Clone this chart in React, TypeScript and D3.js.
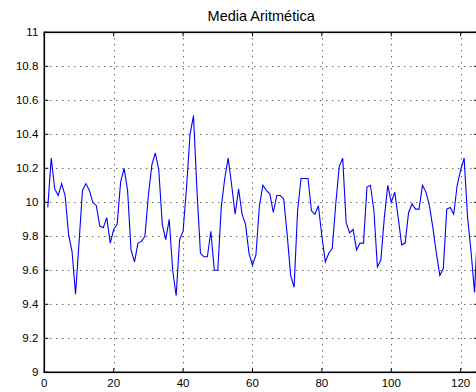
import React from 'react';
import * as d3 from 'd3';

// mean value for each sample (x = 1..125)
const mediaValues: number[] = [
  9.97, 10.26, 10.08, 10.04, 10.11, 10.04, 9.81, 9.71, 9.46, 9.76,
  10.07, 10.11, 10.07, 10.0, 9.98, 9.86, 9.85, 9.91, 9.76, 9.84,
  9.87, 10.12, 10.2, 10.07, 9.72, 9.65, 9.76, 9.77, 9.8, 10.04,
  10.22, 10.29, 10.19, 9.87, 9.78, 9.9, 9.6, 9.45, 9.78, 9.83,
  10.09, 10.4, 10.51, 10.07, 9.7, 9.68, 9.68, 9.83, 9.6, 9.6,
  9.97, 10.14, 10.26, 10.1, 9.93, 10.08, 9.93, 9.87, 9.7, 9.63,
  9.69, 9.98, 10.1, 10.07, 10.05, 9.94, 10.04, 10.04, 10.02, 9.81,
  9.57, 9.5, 9.95, 10.14, 10.14, 10.14, 9.95, 9.93, 9.98, 9.8,
  9.65, 9.7, 9.73, 9.99, 10.21, 10.26, 9.88, 9.82, 9.84, 9.72,
  9.76, 9.76, 10.09, 10.1, 9.95, 9.62, 9.66, 9.91, 10.1, 10.0,
  10.06, 9.91, 9.75, 9.76, 9.94, 9.99, 9.96, 9.96, 10.1, 10.06,
  9.98, 9.85, 9.7, 9.57, 9.61, 9.96, 9.97, 9.93, 10.1, 10.19,
  10.26, 9.91, 9.71, 9.47, 9.9,
];

const xTicks = [0, 20, 40, 60, 80, 100, 120];
const yTicks = [9, 9.2, 9.4, 9.6, 9.8, 10, 10.2, 10.4, 10.6, 10.8, 11];
const yTickLabels = ['9', '9.2', '9.4', '9.6', '9.8', '10', '10.2', '10.4', '10.6', '10.8', '11'];
const title = 'Media Aritmética';

const width = 476;
const height = 392;
const left = 44.3;
const right = 478;
const top = 32.3;
const bottom = 372.3;

const App = () => {
  const x = d3.scaleLinear().domain([0, 125]).range([left, right]);
  const y = d3.scaleLinear().domain([9, 11]).range([bottom, top]);

  const line = d3
    .line<number>()
    .x((d, i) => x(i + 1))
    .y((d) => y(d));

  const font = 'Liberation Sans, Arial, sans-serif';

  return (
    <div style={{ position: 'absolute', left: 0, top: 0 }}>
      <svg width={width} height={height} style={{ display: 'block', background: '#fff' }}>
        <rect x={0} y={0} width={width} height={height} fill="#fff" />

        {/* dotted grid */}
        {xTicks.slice(1).map((t) => (
          <line
            key={`gx${t}`}
            x1={Math.round(x(t)) + 0.5}
            x2={Math.round(x(t)) + 0.5}
            y1={top}
            y2={bottom}
            stroke="#222"
            strokeWidth={1}
            strokeDasharray="1,5"
          />
        ))}
        {yTicks.slice(1, -1).map((t) => (
          <line
            key={`gy${t}`}
            x1={left}
            x2={right}
            y1={Math.round(y(t)) + 0.5}
            y2={Math.round(y(t)) + 0.5}
            stroke="#222"
            strokeWidth={1}
            strokeDasharray="1,5"
          />
        ))}

        {/* data */}
        <path d={line(mediaValues) ?? ''} fill="none" stroke="#0000ff" strokeWidth={1.1} />

        {/* inward ticks */}
        {yTicks.map((t) => (
          <g key={`ty${t}`}>
            <line x1={left} x2={left + 4} y1={y(t)} y2={y(t)} stroke="#000" />
            <line x1={right - 4} x2={right} y1={y(t)} y2={y(t)} stroke="#000" />
          </g>
        ))}
        {xTicks.map((t) => (
          <g key={`tx${t}`}>
            <line x1={x(t)} x2={x(t)} y1={bottom} y2={bottom - 4} stroke="#000" />
            <line x1={x(t)} x2={x(t)} y1={top} y2={top + 4} stroke="#000" />
          </g>
        ))}

        {/* axes box */}
        <rect
          x={left}
          y={top}
          width={right - left}
          height={bottom - top}
          fill="none"
          stroke="#000"
          strokeWidth={1.6}
        />

        {/* tick labels */}
        {yTicks.map((t, i) => (
          <text
            key={`ly${t}`}
            x={left - 6}
            y={y(t) + 4}
            textAnchor="end"
            fontFamily={font}
            fontSize={11.5}
            fill="#000"
          >
            {yTickLabels[i]}
          </text>
        ))}
        {xTicks.map((t) => (
          <text
            key={`lx${t}`}
            x={x(t)}
            y={bottom + 15}
            textAnchor="middle"
            fontFamily={font}
            fontSize={11.5}
            fill="#000"
          >
            {t}
          </text>
        ))}

        <text
          x={(left + right) / 2}
          y={21}
          textAnchor="middle"
          fontFamily={font}
          fontSize={14.5}
          fill="#000"
        >
          {title}
        </text>
      </svg>
    </div>
  );
};

export default App;
